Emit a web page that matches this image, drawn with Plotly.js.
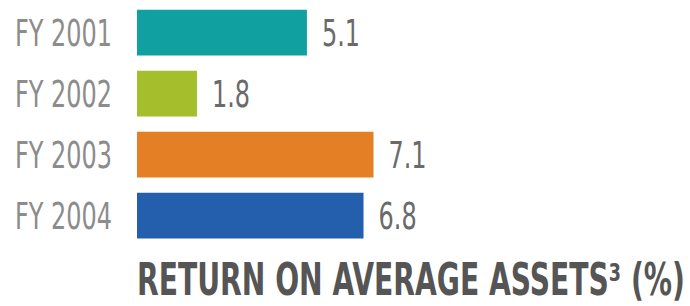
<!DOCTYPE html>
<html>
<head>
<meta charset="utf-8">
<script src="https://cdn.plot.ly/plotly-3.0.1.min.js"></script>
<style>
html,body{margin:0;padding:0;background:#fff;}
#chart{width:690px;height:306px;}
</style>
</head>
<body>
<div id="chart"></div>
<script>
const categories = ["FY 2001", "FY 2002", "FY 2003", "FY 2004"];
const values = [5.1, 1.8, 7.1, 6.8];
const valueLabels = ["5.1", "1.8", "7.1", "6.8"];
const barColors = ["#11a0a0", "#a5be2c", "#e57f26", "#245fae"];
const chartTitle = "RETURN ON AVERAGE ASSETS³ (%)";

const FONT = "'DejaVu Sans Condensed', 'DejaVu Sans', sans-serif";

const trace = {
  type: "bar",
  orientation: "h",
  y: categories,
  x: values,
  text: valueLabels,
  textposition: "outside",
  cliponaxis: false,
  textfont: {family: FONT, size: 38, color: "#6a6a6a"},
  marker: {color: barColors, line: {width: 0}},
  hoverinfo: "none"
};

const layout = {
  width: 690,
  height: 306,
  margin: {l: 137, r: 0, t: 2, b: 60},
  paper_bgcolor: "#fff",
  plot_bgcolor: "#fff",
  showlegend: false,
  bargap: 0.25,
  xaxis: {
    range: [0, 16.6],
    visible: false,
    fixedrange: true
  },
  yaxis: {
    autorange: "reversed",
    showgrid: false,
    zeroline: false,
    showline: false,
    ticks: "",
    ticklabelstandoff: 24,
    tickfont: {family: FONT, size: 38, color: "#8c8c8c"}
  },
  title: {
    text: chartTitle,
    font: {family: FONT, size: 44, color: "#555555", weight: "bold"},
    x: 137 / 690,
    xanchor: "left",
    xref: "container",
    yref: "container",
    y: 0.036,
    yanchor: "bottom"
  }
};

// emulate a narrow, condensed typeface by compressing the text horizontally
function squeeze(el, sx, ax, ay, dx) {
  const b = el.getBBox();
  const px = b.x + ax * b.width;
  const py = b.y + ay * b.height;
  const t0 = el.getAttribute("transform") || "";
  el.setAttribute("transform",
    t0 + " translate(" + (px + dx) + "," + py + ") scale(" + sx + ",1) translate(" + (-px) + "," + (-py) + ")");
}

Plotly.newPlot("chart", [trace], layout, {displayModeBar: false, staticPlot: true}).then(function (gd) {
  const tickTexts = gd.querySelectorAll(".ytick text");
  const w0 = tickTexts[0].getBBox().width;
  const sx = 97 / w0;
  tickTexts.forEach(function (t) { squeeze(t, sx, 1, 0.5, 0); });
  gd.querySelectorAll("text.bartext").forEach(function (t) { squeeze(t, sx, 0, 0.5, 12); });
  const title = gd.querySelector("text.gtitle");
  if (title) {
    const tw = title.getBBox().width;
    squeeze(title, 548 / tw, 0, 1, 0);
  }
});
</script>
</body>
</html>
